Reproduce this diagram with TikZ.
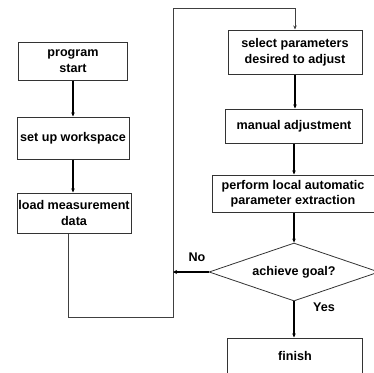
\documentclass[tikz,border=0pt]{standalone}
\usepackage{fontspec}
\setmainfont{Liberation Sans}
\usetikzlibrary{arrows.meta,shapes.geometric}

\tikzset{
    box/.style={draw=black!80,line width=1,align=center,inner sep=0pt,
        font=\bfseries\fontsize{12.6}{15.5}\selectfont},
    decide/.style={diamond,draw=black!80,line width=0.8,aspect=2.9,inner sep=0pt,
        minimum width=170,minimum height=58,font=\bfseries\fontsize{12.6}{15.5}\selectfont},
    flow/.style={line width=1.6,-{Stealth[length=4pt,width=3.5pt]}},
    back/.style={draw=black!75,line width=1},
    tag/.style={font=\bfseries\fontsize{12.6}{15.5}\selectfont}
}

\begin{document}
\begin{tikzpicture}[x=1pt,y=-1pt]
    \useasboundingbox (0,0) rectangle (374,372);

    % left column
    \node[box,minimum width=109,minimum height=38] (start) at (73,61) {program\\start};
    \node[box,minimum width=112,minimum height=42] (setup) at (73,138) {set up workspace};
    \node[box,minimum width=114,minimum height=40] (load) at (74,213) {load measurement\\data};

    % right column
    \node[box,minimum width=134,minimum height=44] (select) at (295,52) {select parameters\\desired to adjust};
    \node[box,minimum width=137,minimum height=34] (manual) at (294,126) {manual adjustment};
    \node[box,minimum width=162,minimum height=37] (perform) at (293,193.5) {perform local automatic\\parameter extraction};
    \node[decide] (goal) at (294,272) {achieve goal?};
    \node[box,minimum width=135,minimum height=36] (finish) at (295,356) {finish};

    \coordinate (bot) at (173,317);
    \coordinate (top) at (173,8);

    \draw[flow] (start) -- (start |- setup.north);
    \draw[flow] (setup) -- (setup |- load.north);
    \draw[back] ([xshift=-6]load.south) |- (bot) -- (top);
    \draw[back,-{Stealth[length=4pt,width=3.5pt]}] (top) -| (select.north);
    \draw[flow] (select) -- (select |- manual.north);
    \draw[flow] (manual) -- (manual |- perform.north);
    \draw[flow] (perform.south -| goal.north) -- (goal.north);
    \draw[flow] (goal.south) -- (goal.south |- finish.north);
    \draw[line width=2.6,-{Stealth[length=4pt,width=4pt]}] (goal.west) -- (goal.west -| bot);
    %
    \node[tag] (no) at (197,257) {No};
    \node[tag] (yes) at (324,307) {Yes};
\end{tikzpicture}
\end{document}
